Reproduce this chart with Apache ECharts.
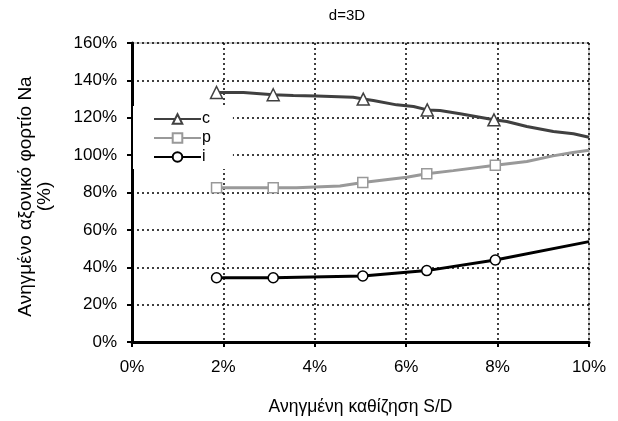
<!DOCTYPE html>
<html><head><meta charset="utf-8">
<script src="https://cdn.jsdelivr.net/npm/echarts@6/dist/echarts.min.js"></script>
<style>html,body{margin:0;padding:0;background:#fff}#c{width:618px;height:421px}</style>
</head><body><div id="c"></div>
<script>
var titleText = 'd=3D';
var xName = 'Ανηγμένη καθίζηση S/D';
var yName = 'Ανηγμένο αξονικό φορτίο Na\n(%)';
var seriesNames = ['c', 'p', 'i'];

var cX = [1.85, 2.44, 3.09, 3.53, 4.04, 4.84, 5.06, 5.28, 5.79, 6.16, 6.46, 6.74, 7.18, 7.92, 8.2, 8.64, 9.22, 9.66, 10.0];
var cY = [133.5, 133.5, 132.3, 131.9, 131.7, 131.0, 130.0, 129.2, 126.9, 126.0, 124.2, 123.9, 122.1, 118.9, 118.0, 115.3, 112.6, 111.4, 109.6];
var cMarks = [0, 2, 6, 10, 13];

var pX = [1.85, 3.09, 3.6, 4.55, 5.05, 6.01, 6.45, 7.03, 7.95, 8.64, 9.21, 9.65, 10.0];
var pY = [82.6, 82.6, 82.5, 83.5, 85.3, 88.2, 90.0, 91.7, 94.6, 96.6, 99.6, 101.4, 102.6];
var pMarks = [0, 1, 4, 6, 8];

var iX = [1.85, 3.09, 5.05, 6.45, 7.95, 10.0];
var iY = [34.4, 34.4, 35.3, 38.2, 43.9, 53.7];
var iMarks = [0, 1, 2, 3, 4];

function build(xs, ys, marks) {
  return xs.map(function (x, k) {
    var item = { value: [x, ys[k]] };
    if (marks.indexOf(k) < 0) item.symbol = 'none';
    return item;
  });
}

var font = 'Liberation Sans, Arial, sans-serif';
var grid = { type: [2, 3], color: '#000', width: 1.5 };

var chart = echarts.init(document.getElementById('c'));
chart.setOption({
  animation: false,
  title: { text: titleText, left: 342, top: 3, textAlign: 'center',
    textStyle: { fontFamily: font, fontSize: 15, fontWeight: 'normal', color: '#000' } },
  grid: { left: 132, right: 29, top: 43, bottom: 79, show: true, borderColor: '#999', borderWidth: 1, backgroundColor: 'transparent' },
  legend: {
    orient: 'vertical', left: 133, top: 106, itemWidth: 47, itemHeight: 12, itemGap: 3,
    padding: [5, 22, 4, 20], backgroundColor: '#fff', z: 10,
    textStyle: { fontFamily: font, fontSize: 16, color: '#000', padding: [0, 0, 0, -4] },
    data: seriesNames
  },
  xAxis: {
    type: 'value', min: 0, max: 10, interval: 2,
    name: xName, nameLocation: 'middle', nameGap: 56,
    nameTextStyle: { fontFamily: font, fontSize: 17.5, color: '#000' },
    axisLine: { lineStyle: { color: '#000', width: 3 } },
    axisTick: { show: true, length: 5, lineStyle: { color: '#000', width: 2 } },
    axisLabel: { formatter: '{value}%', fontFamily: font, fontSize: 17, color: '#000', margin: 17 },
    splitLine: { show: true, lineStyle: grid }
  },
  yAxis: {
    type: 'value', min: 0, max: 160, interval: 20,
    name: yName, nameLocation: 'middle', nameGap: 78,
    nameTextStyle: { fontFamily: font, fontSize: 19, color: '#000', lineHeight: 19, align: 'center', padding: [0, 8, 0, 0] },
    axisLine: { show: true, lineStyle: { color: '#000', width: 3 } },
    axisTick: { show: true, length: 5, lineStyle: { color: '#000', width: 2 } },
    axisLabel: { formatter: '{value}%', fontFamily: font, fontSize: 17, color: '#000', margin: 15 },
    splitLine: { show: true, lineStyle: grid }
  },
  series: [
    { name: 'c', type: 'line', data: build(cX, cY, cMarks), symbol: 'triangle', symbolSize: 12,
      lineStyle: { color: '#404040', width: 3 },
      itemStyle: { color: '#fff', borderColor: '#404040', borderWidth: 1.5 }, z: 3 },
    { name: 'p', type: 'line', data: build(pX, pY, pMarks), symbol: 'rect', symbolSize: 10,
      lineStyle: { color: '#999999', width: 3 },
      itemStyle: { color: '#fff', borderColor: '#999999', borderWidth: 1.5 }, z: 3 },
    { name: 'i', type: 'line', data: build(iX, iY, iMarks), symbol: 'circle', symbolSize: 10,
      lineStyle: { color: '#000', width: 3 },
      itemStyle: { color: '#fff', borderColor: '#000', borderWidth: 1.5 }, z: 3 }
  ]
});
</script></body></html>
